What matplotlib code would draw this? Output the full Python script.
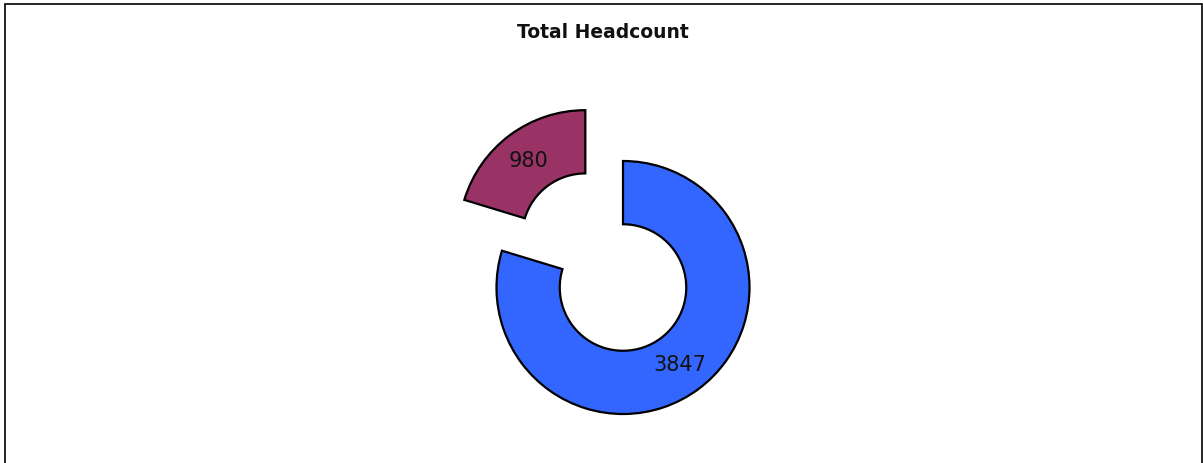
import matplotlib.pyplot as plt
from matplotlib.patches import Rectangle

# data
categories = ['Group A', 'Group B']
headcount = [3847, 980]
colors = ['#3366FF', '#993366']
explode = [0, 0.5]
title = 'Total Headcount'

W, H = 1203, 464
cx, cy, R = 623, 288.5, 126.5  # pixel centre and radius of the ring

fig = plt.figure(figsize=(W / 100, H / 100), dpi=100)
ax = fig.add_axes([0, 0, 1, 1])

total = sum(headcount)
wedges, texts, autotexts = ax.pie(
    headcount, colors=colors, explode=explode, startangle=90, counterclock=False,
    radius=1, autopct=lambda p: '%d' % round(p * total / 100), pctdistance=0.75,
    wedgeprops=dict(width=0.5, edgecolor='black', linewidth=1.6),
    textprops=dict(fontsize=15, color='#111111'))

ax.set_xlim(-cx / R, (W - cx) / R)
ax.set_ylim(-(H - cy) / R, cy / R)
ax.set_aspect('auto')
ax.axis('off')

fig.text(603 / W, 1 - 33 / H, title, ha='center', va='center', fontsize=13.5, fontweight='bold', color='#111111')

# outer frame
fig.patches.append(Rectangle((4.5 / W, -0.05), (1201.5 - 4.5) / W, 1.05 - 5 / H,
                             transform=fig.transFigure, fill=False, edgecolor='black', linewidth=1.2))

fig.savefig('out.png', dpi=100)
